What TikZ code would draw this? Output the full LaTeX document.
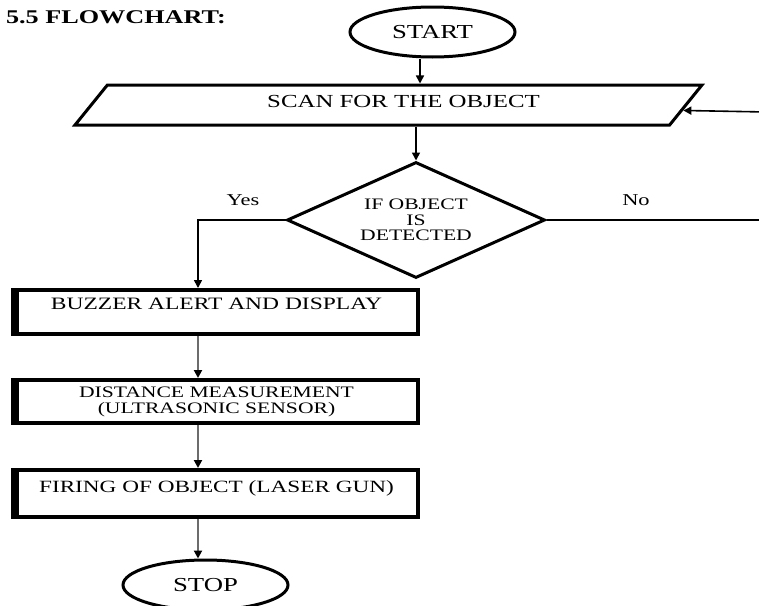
\documentclass[tikz,border=0pt]{standalone}
\usepackage{fontspec}
\setmainfont{Liberation Serif}[FakeStretch=1.35]
\usetikzlibrary{shapes.geometric, arrows.meta}
\tikzset{
    flow line/.style = {draw, line width=0.8pt, -{Triangle[length=4pt, width=4pt]}},
    down line/.style = {flow line, line width=1.1pt, draw=gray!85!black, -{Triangle[length=4pt, width=4pt, color=black]}},
}
\tikzset{
    terminal/.style = {draw, ellipse, line width=1.5pt, minimum width=82.5pt, minimum height=25pt, inner sep=0pt, font=\fontsize{9.9}{10}\selectfont},
    scanbox/.style = {draw, trapezium, trapezium left angle=51, trapezium right angle=129, trapezium stretches body, line width=1.5pt, minimum width=313.5pt, text height=11pt, text depth=9pt, inner sep=0pt, font=\fontsize{9.2}{10}\selectfont},
    decision/.style = {draw, diamond, aspect=2.2, line width=1.5pt, minimum width=129pt, minimum height=58pt, inner sep=0pt, align=center, font=\fontsize{8}{7.75}\selectfont},
    process/.style = {draw, rectangle, line width=2pt, minimum width=201.5pt, inner sep=0pt, align=center},
}

\begin{document}
\begin{tikzpicture}[x=0.5pt, y=-0.5pt]
    \useasboundingbox (0,0) rectangle (759,605);
    \clip (0,0) rectangle (759,605);

    \node[anchor=base west, font=\bfseries\fontsize{9.7}{10}\selectfont] (title) at (-1,23) {5.5 FLOWCHART:};

    \node[terminal] (start) at (432.5,32) {START};
    \node[scanbox] (scan) at (388.5,105) {\hspace*{15pt}SCAN FOR THE OBJECT};
    \node[decision] (dia) at (416,220) {IF OBJECT\\IS\\DETECTED};
    \node[font=\fontsize{8.3}{10}\selectfont] (yes) at (243,200) {Yes};
    \node[font=\fontsize{8.3}{10}\selectfont] (no) at (636,200) {No};

    \node[process, text height=9.5pt, text depth=12.5pt, font=\fontsize{8.7}{10}\selectfont] (buzz) at (216.5,288) [anchor=north] {BUZZER ALERT AND DISPLAY};
    \node[process, minimum height=21.5pt, font=\fontsize{8}{8}\selectfont] (dist) at (216.5,401.5) {DISTANCE MEASUREMENT\\(ULTRASONIC SENSOR)};
    \node[process, text height=11pt, text depth=12.5pt, font=\fontsize{8.6}{10}\selectfont] (fire) at (216.5,468) [anchor=north] {FIRING OF OBJECT (LASER GUN)};
    \node[terminal] (stop) at (205.5,585) {STOP};

    % thick left edges of the boxes
    \foreach \b in {buzz, dist, fire}
        \draw[line width=4pt] ([xshift=1pt]\b.north west) -- ([xshift=1pt]\b.south west);

    \coordinate (col) at (198,220);
    \coordinate (loop) at (766,220);
    \coordinate (back) at (766,112);

    \draw[flow line] (start.south -| 420,0) -- (scan.north -| 420,0);
    \draw[flow line] (scan.south -| dia.north) -- (dia.north);
    \draw[flow line] (dia.west) -- (col) -- (col |- buzz.north);
    \draw[flow line] (dia.east) -- (loop) -- (back) -- (scan);
    \draw[down line] (buzz.south -| col) -- (dist.north -| col);
    \draw[down line] (dist.south -| col) -- (fire.north -| col);
    \draw[down line] (fire.south -| col) -- (stop.north -| col);
\end{tikzpicture}
\end{document}
